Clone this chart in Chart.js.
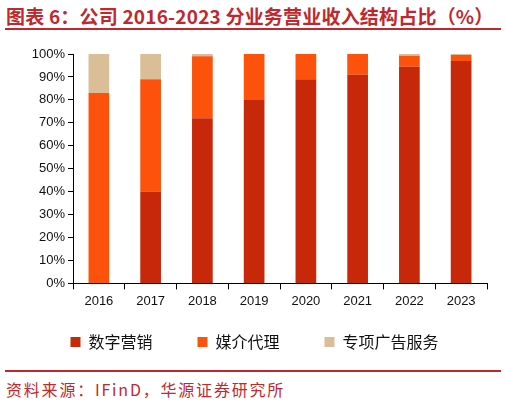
<!DOCTYPE html>
<html>
<head>
<meta charset="utf-8">
<script src="https://cdn.jsdelivr.net/npm/chart.js@4.4.1/dist/chart.umd.min.js"></script>
<style>
  body { margin: 0; width: 506px; height: 404px; background: #fff; position: relative; overflow: hidden; }
  .title { position: absolute; left: 6px; top: 2px; font: bold 19px "Noto Sans CJK SC", sans-serif; letter-spacing: 0.2px; color: #C0282E; white-space: nowrap; }
  .rule { position: absolute; left: 5px; width: 496px; height: 2px; background: #C0282E; }
  .source { position: absolute; left: 6px; top: 377px; font: 16px "Noto Sans CJK SC", sans-serif; letter-spacing: 1.8px; color: #C0282E; white-space: nowrap; }
  #wrap { position: absolute; left: 0; top: 38px; width: 506px; height: 322px; }
</style>
</head>
<body>
<div class="title">图表 6：公司 2016-2023 分业务营业收入结构占比（%）</div>
<div class="rule" style="top:28px"></div>
<div id="wrap"><canvas id="myBarChart"></canvas></div>
<div class="rule" style="top:370px"></div>
<div class="source">资料来源：IFinD，华源证券研究所</div>
<script>
const years = ['2016', '2017', '2018', '2019', '2020', '2021', '2022', '2023'];
const digital = [0, 40, 72, 80, 89, 91, 94.4, 97];
const media = [83, 49, 27, 20, 11, 9, 4.8, 2.6];
const special = [17, 11, 1, 0, 0, 0, 0.8, 0.4];
const yTicks = [0, 10, 20, 30, 40, 50, 60, 70, 80, 90, 100];

const axisFont = { family: 'Liberation Sans', size: 13 };

// nudge the legend a little to the right, like the original
const legendShift = {
    id: 'legendShift',
    afterLayout: (chart) => {
        chart.legend.left += 6;
        chart.legend.right += 6;
    }
};

const ctx = document.getElementById('myBarChart').getContext('2d');
const myBarChart = new Chart(ctx, {
    type: 'bar',
    data: {
        labels: years,
        datasets: [
            { label: '数字营销', data: digital, backgroundColor: '#C8280A' },
            { label: '媒介代理', data: media, backgroundColor: '#FC520B' },
            { label: '专项广告服务', data: special, backgroundColor: '#DABE98' }
        ]
    },
    options: {
        responsive: true,
        maintainAspectRatio: false,
        animation: false,
        layout: { padding: { left: 10, right: 19, top: 16, bottom: 0 } },
        datasets: { bar: { categoryPercentage: 0.8, barPercentage: 0.5 } },
        scales: {
            x: {
                stacked: true,
                grid: { drawOnChartArea: false, color: '#000', tickLength: 6 },
                border: { color: '#000', width: 1 },
                ticks: { color: '#111', font: axisFont, padding: 4 }
            },
            y: {
                stacked: true,
                min: 0,
                max: 100,
                afterBuildTicks: (scale) => { scale.ticks = yTicks.map(v => ({ value: v })); },
                afterFit: (scale) => { scale.width = 63; },
                grid: { drawOnChartArea: false, color: '#000', tickLength: 5 },
                border: { color: '#000', width: 1 },
                ticks: { color: '#111', font: axisFont, padding: 3, callback: (v) => v + '%' }
            }
        },
        plugins: {
            legend: {
                position: 'bottom',
                labels: {
                    boxWidth: 10,
                    boxHeight: 10,
                    padding: 21,
                    color: '#111',
                    font: { family: 'Noto Sans CJK SC', size: 16 },
                    // widen the gap between items without adding vertical space
                    generateLabels: (chart) => {
                        const items = Chart.defaults.plugins.legend.labels.generateLabels(chart);
                        items.forEach((it, i) => {
                            if (i < items.length - 1) it.text += '\u3000\u2002';
                        });
                        return items;
                    }
                }
            },
            tooltip: { enabled: false }
        }
    },
    plugins: [legendShift]
});
</script>
</body>
</html>
